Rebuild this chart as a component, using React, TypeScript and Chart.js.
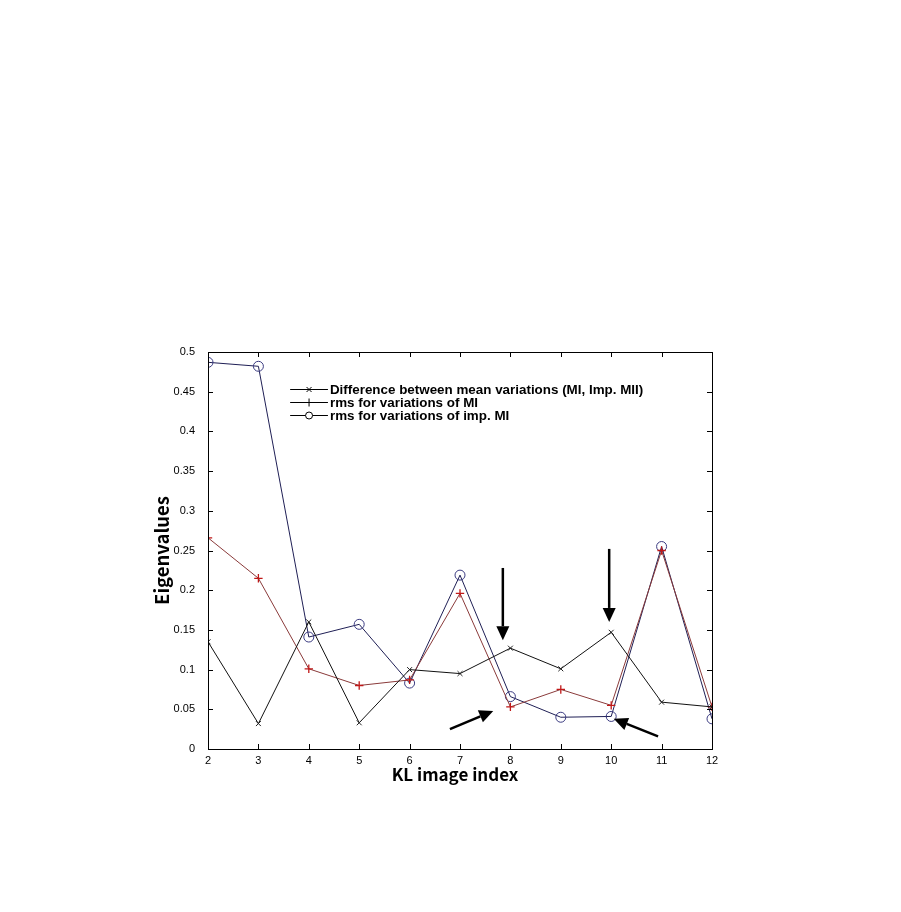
import React, { useEffect, useRef } from "react";
import { Chart, registerables } from "chart.js";

Chart.register(...registerables);

const categories = [2, 3, 4, 5, 6, 7, 8, 9, 10, 11, 12];
const diffMean = [0.135, 0.032, 0.16, 0.033, 0.1, 0.095, 0.127, 0.101, 0.147, 0.059, 0.053];
const rmsMI = [0.266, 0.215, 0.101, 0.08, 0.087, 0.196, 0.053, 0.075, 0.055, 0.25, 0.053];
const rmsImpMI = [0.487, 0.482, 0.141, 0.157, 0.083, 0.219, 0.066, 0.04, 0.041, 0.255, 0.038];
const seriesLabels = [
  "Difference between mean variations (MI, Imp. MII)",
  "rms for variations of MI",
  "rms for variations of imp. MI",
];
const yTicks = [0, 0.05, 0.1, 0.15, 0.2, 0.25, 0.3, 0.35, 0.4, 0.45, 0.5];
const arrows = [
  { from: [7.85, 0.228], to: [7.85, 0.137] },
  { from: [9.96, 0.252], to: [9.96, 0.16] },
  { from: [6.8, 0.025], to: [7.66, 0.048] },
  { from: [10.93, 0.016], to: [10.05, 0.038] },
];

const toPts = (vals: number[]) => categories.map((c, i) => ({ x: c, y: vals[i] }));

const framePlugin = {
  id: "frame",
  afterDatasetsDraw(chart: any) {
    const { ctx, chartArea: a, scales } = chart;
    const xs = scales.x;
    const ys = scales.y;
    ctx.save();
    ctx.strokeStyle = "#000";
    ctx.lineWidth = 1;
    ctx.strokeRect(Math.round(a.left) + 0.5, Math.round(a.top) + 0.5, Math.round(a.right - a.left), Math.round(a.bottom - a.top));
    ctx.beginPath();
    categories.forEach((c) => {
      const px = Math.round(xs.getPixelForValue(c)) + 0.5;
      ctx.moveTo(px, a.bottom);
      ctx.lineTo(px, a.bottom - 5);
      ctx.moveTo(px, a.top);
      ctx.lineTo(px, a.top + 5);
    });
    yTicks.forEach((v) => {
      const py = Math.round(ys.getPixelForValue(v)) + 0.5;
      ctx.moveTo(a.left, py);
      ctx.lineTo(a.left + 5, py);
      ctx.moveTo(a.right, py);
      ctx.lineTo(a.right - 5, py);
    });
    ctx.stroke();

    arrows.forEach((ar) => {
      const x1 = xs.getPixelForValue(ar.from[0]);
      const y1 = ys.getPixelForValue(ar.from[1]);
      const x2 = xs.getPixelForValue(ar.to[0]);
      const y2 = ys.getPixelForValue(ar.to[1]);
      const ang = Math.atan2(y2 - y1, x2 - x1);
      const hl = 14;
      const hw = 6.5;
      const bx = x2 - hl * Math.cos(ang);
      const by = y2 - hl * Math.sin(ang);
      ctx.strokeStyle = "#000";
      ctx.lineWidth = 2.5;
      ctx.beginPath();
      ctx.moveTo(x1, y1);
      ctx.lineTo(bx, by);
      ctx.stroke();
      ctx.fillStyle = "#000";
      ctx.beginPath();
      ctx.moveTo(x2, y2);
      ctx.lineTo(bx + hw * Math.sin(ang), by - hw * Math.cos(ang));
      ctx.lineTo(bx - hw * Math.sin(ang), by + hw * Math.cos(ang));
      ctx.closePath();
      ctx.fill();
    });

    const lx0 = xs.getPixelForValue(3.63);
    const lx1 = xs.getPixelForValue(4.38);
    const ly0 = ys.getPixelForValue(0.4535);
    const rowH = 13;
    ctx.font = "bold 13.4px 'Liberation Sans', Arial, sans-serif";
    ctx.textBaseline = "middle";
    ctx.textAlign = "left";
    chart.data.datasets.forEach((ds: any, i: number) => {
      const y = Math.round(ly0 + i * rowH) + 0.5;
      ctx.strokeStyle = "#000";
      ctx.lineWidth = 1;
      ctx.beginPath();
      ctx.moveTo(lx0, y);
      ctx.lineTo(lx1, y);
      ctx.stroke();
      const mx = (lx0 + lx1) / 2;
      ctx.beginPath();
      if (i === 0) {
        ctx.moveTo(mx - 2.5, y - 2.5);
        ctx.lineTo(mx + 2.5, y + 2.5);
        ctx.moveTo(mx + 2.5, y - 2.5);
        ctx.lineTo(mx - 2.5, y + 2.5);
        ctx.stroke();
      } else if (i === 1) {
        ctx.moveTo(mx, y - 4);
        ctx.lineTo(mx, y + 4);
        ctx.stroke();
      } else {
        ctx.fillStyle = "#fff";
        ctx.arc(mx, y, 3.5, 0, Math.PI * 2);
        ctx.fill();
        ctx.stroke();
      }
      ctx.fillStyle = "#000";
      ctx.fillText(ds.label, lx1 + 2, y + 0.5);
    });

    ctx.fillStyle = "#000";
    ctx.font = "bold 17px 'Noto Sans CJK JP', 'Liberation Sans', sans-serif";
    ctx.textAlign = "center";
    ctx.textBaseline = "middle";
    ctx.fillText("KL image index", (a.left + a.right) / 2 - 5, a.bottom + 26);
    ctx.save();
    ctx.font = "bold 18.5px 'Noto Sans CJK JP', 'Liberation Sans', sans-serif";
    ctx.translate(a.left - 46, (a.top + a.bottom) / 2);
    ctx.rotate(-Math.PI / 2);
    ctx.fillText("Eigenvalues", 0, 0);
    ctx.restore();
    ctx.restore();
  },
};

export default function App() {
  const ref = useRef<HTMLCanvasElement | null>(null);
  useEffect(() => {
    if (!ref.current) return;
    const chart = new Chart(ref.current, {
      type: "line",
      data: {
        datasets: [
          {
            label: seriesLabels[0],
            data: toPts(diffMean),
            borderColor: "#111",
            borderWidth: 1,
            pointStyle: "crossRot",
            pointRadius: 3.5,
            pointBorderColor: "#222",
            pointBorderWidth: 1,
            tension: 0,
          },
          {
            label: seriesLabels[1],
            data: toPts(rmsMI),
            borderColor: "#8a3a3a",
            borderWidth: 1,
            pointStyle: "cross",
            pointRadius: 4.2,
            pointBorderColor: "#c01818",
            pointBorderWidth: 1.3,
            tension: 0,
          },
          {
            label: seriesLabels[2],
            data: toPts(rmsImpMI),
            borderColor: "#1f1f55",
            borderWidth: 1,
            pointStyle: "circle",
            pointRadius: 5,
            pointBackgroundColor: "rgba(0,0,0,0)",
            pointBorderColor: "#3a3a80",
            pointBorderWidth: 1,
            tension: 0,
          },
        ],
      },
      options: {
        animation: false,
        responsive: false,
        layout: { padding: { left: 148, top: 352, right: 189, bottom: 133 } },
        plugins: { legend: { display: false }, tooltip: { enabled: false } },
        scales: {
          x: {
            type: "linear",
            min: 2,
            max: 12,
            afterFit: (s: any) => {
              s.height = 30;
            },
            afterBuildTicks: (s: any) => {
              s.ticks = categories.map((c) => ({ value: c }));
            },
            grid: { display: false },
            border: { display: false },
            ticks: {
              color: "#000",
              font: { size: 11, family: "'Liberation Sans', Arial, sans-serif" },
              padding: -3,
              maxRotation: 0,
              autoSkip: false,
              callback: (v: any) => String(v),
            },
          },
          y: {
            type: "linear",
            min: 0,
            max: 0.5,
            afterFit: (s: any) => {
              s.width = 60;
            },
            afterBuildTicks: (s: any) => {
              s.ticks = yTicks.map((v) => ({ value: v }));
            },
            grid: { display: false },
            border: { display: false },
            ticks: {
              color: "#000",
              font: { size: 11, family: "'Liberation Sans', Arial, sans-serif" },
              padding: 5,
              autoSkip: false,
              callback: (v: any) => String(v),
            },
          },
        },
      },
      plugins: [framePlugin],
    } as any);
    return () => chart.destroy();
  }, []);
  return (
    <div style={{ position: "absolute", left: 0, top: 0, width: 901, height: 912, background: "#fff" }}>
      <canvas ref={ref} width={901} height={912} style={{ display: "block" }} />
    </div>
  );
}
